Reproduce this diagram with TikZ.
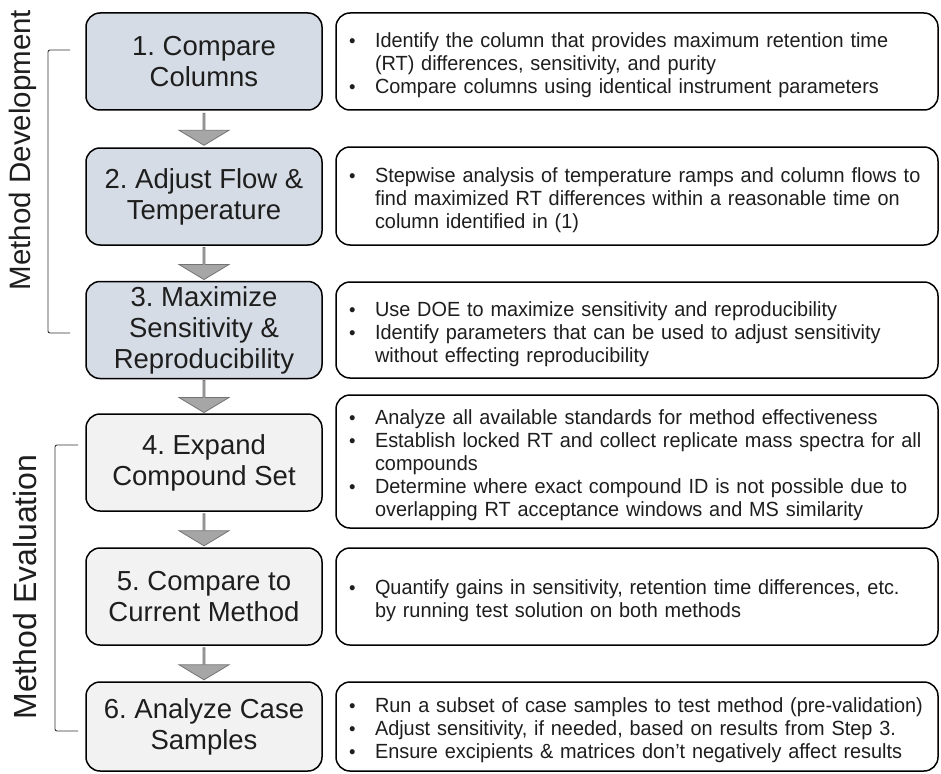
\documentclass[tikz,border=0pt]{standalone}
\usepackage{fontspec}
\setmainfont{Liberation Sans}
\newfontfamily\notefont[FakeStretch=0.97]{Liberation Sans}
\usetikzlibrary{shapes.arrows,calc}
\definecolor{devfill}{RGB}{214,220,229}
\definecolor{evalfill}{RGB}{242,242,242}
\definecolor{arrowgray}{RGB}{166,166,166}
\definecolor{inkgray}{RGB}{30,30,30}
\newcommand{\bitem}{\par\noindent\hangindent=37pt\hangafter=1\makebox[37pt][l]{\hspace{11pt}{\fontsize{19}{19}\selectfont\textbullet}}}
\tikzset{
  stepbox/.style={draw=black, line width=1.5pt, rounded corners=14pt, minimum width=236pt, minimum height=97pt, align=center, font=\fontsize{27.5}{31}\selectfont, text=inkgray, inner sep=0pt},
  notebox/.style={draw=black, line width=1.5pt, rounded corners=14pt, text width=598pt, inner xsep=2pt, inner ysep=0pt, align=left, font=\notefont\fontsize{20.5}{23}\selectfont, text=inkgray, fill=white},
  downarrow/.style={single arrow, draw=black!55, fill=arrowgray, line width=0.8pt, minimum width=50pt, minimum height=32pt, single arrow head extend=10pt, single arrow tip angle=118, single arrow head indent=0pt, rotate=-90, inner sep=0pt},
  bracket/.style={draw=black!80, line width=0.9pt, rounded corners=2pt},
  grouplabel/.style={rotate=90, font=\fontsize{29.5}{32}\selectfont, text=inkgray, inner sep=0pt}
}
\begin{document}
\frenchspacing
\begin{tikzpicture}[x=1pt,y=-1pt]
\useasboundingbox (0,0) rectangle (941,773);
\node[stepbox, fill=devfill] (s1) at (204,61.5) {1. Compare\\Columns};
\node[stepbox, fill=devfill] (s2) at (204,196.5) {2. Adjust Flow \&\\Temperature};
\node[stepbox, fill=devfill] (s3) at (204,330) {3. Maximize\\Sensitivity \&\\Reproducibility};
\node[stepbox, fill=evalfill] (s4) at (204,462.5) {4. Expand\\Compound Set};
\node[stepbox, fill=evalfill] (s5) at (204,596.5) {5. Compare to\\Current Method};
\node[stepbox, fill=evalfill, minimum height=89pt] (s6) at (204,726.5) {6. Analyze Case\\Samples};
\foreach \a/\b in {s1/s2,s2/s3,s3/s4,s4/s5,s5/s6} {
  \node[downarrow] at ($(\a.south)!0.5!(\b.north)$) {};
}
\node[notebox, minimum height=97pt] (n1) at (637,61.5) {\bitem Identify the column that provides maximum retention time\newline (RT) differences, sensitivity, and purity \bitem Compare columns using identical instrument parameters\par};
\node[notebox, minimum height=98pt] (n2) at (637,196) {\bitem Stepwise analysis of temperature ramps and column flows to\newline find maximized RT differences within a reasonable time on\newline column identified in (1)\par};
\node[notebox, minimum height=96pt] (n3) at (637,330) {\bitem Use DOE to maximize sensitivity and reproducibility \bitem Identify parameters that can be used to adjust sensitivity\newline without effecting reproducibility\par};
\node[notebox, minimum height=133pt] (n4) at (637,461.5) {\bitem Analyze all available standards for method effectiveness \bitem Establish locked RT and collect replicate mass spectra for all\newline compounds \bitem Determine where exact compound ID is not possible due to\newline overlapping RT acceptance windows and MS similarity\par};
\node[notebox, minimum height=97pt] (n5) at (637,596.5) {\bitem Quantify gains in sensitivity, retention time differences, etc.\newline by running test solution on both methods\par};
\node[notebox, minimum height=89pt] (n6) at (637,726.5) {\bitem Run a subset of case samples to test method (pre-validation) \bitem Adjust sensitivity, if needed, based on results from Step 3. \bitem Ensure excipients \& matrices don’t negatively affect results\par};
\draw[bracket] (70,50) -- (48,50) -- (48,333) -- (70,333);
\draw[bracket] (78,445) -- (55,445) -- (55,731) -- (78,731);
\node[grouplabel] (devlab) at (23,150) {Method Development};
\node[grouplabel, font=\fontsize{32}{34}\selectfont] (evallab) at (25,587) {Method Evaluation};
\end{tikzpicture}
\end{document}
